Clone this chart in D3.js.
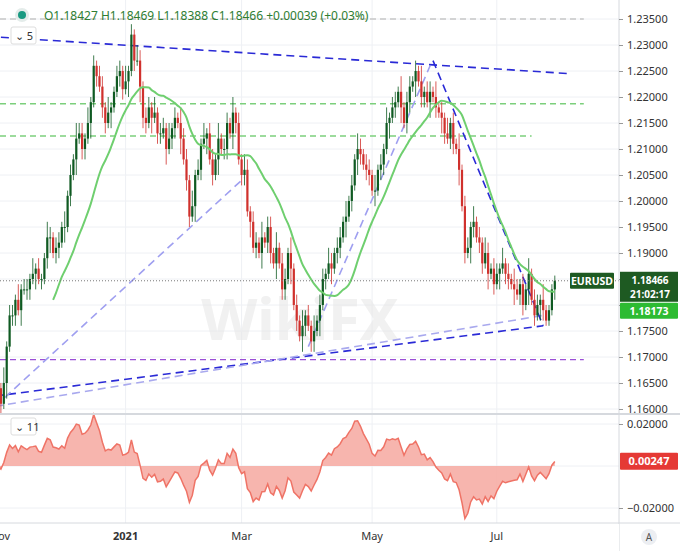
<!DOCTYPE html>
<html><head><meta charset="utf-8">
<script src="https://cdn.jsdelivr.net/npm/d3@7"></script>
<style>body{margin:0;background:#fff}svg{display:block;font-family:'Noto Sans',Arial,sans-serif}</style>
</head><body><div id="chart"></div>
<script>
// daily EURUSD closes, Nov 2 2020 .. Jul 2021
const closes = [
  1.1640,1.1610,1.1650,1.1720,1.1780,1.1780,1.1810,1.1790,1.1830,1.1830,
  1.1830,1.1850,1.1860,1.1870,1.1850,1.1850,1.1890,1.1930,1.1930,1.1900,
  1.1910,1.1920,1.1950,1.1950,1.2010,1.2050,1.2080,1.2120,1.2130,1.2100,
  1.2120,1.2150,1.2190,1.2260,1.2240,1.2220,1.2180,1.2150,1.2170,1.2180,
  1.2210,1.2240,1.2250,1.2215,1.2230,1.2250,1.2320,1.2270,1.2270,1.2220,
  1.2160,1.2150,1.2180,1.2160,1.2170,1.2130,1.2130,1.2140,1.2100,1.2120,
  1.2140,1.2160,1.2150,1.2120,1.2080,1.2040,1.1970,1.1990,1.2050,1.2060,
  1.2110,1.2120,1.2130,1.2080,1.2050,1.2080,1.2120,1.2100,1.2100,1.2150,
  1.2130,1.2170,1.2150,1.2080,1.2050,1.2060,1.1980,1.1960,1.1910,1.1920,
  1.1900,1.1930,1.1920,1.1950,1.1900,1.1880,1.1910,1.1880,1.1830,1.1850,
  1.1900,1.1870,1.1800,1.1770,1.1740,1.1760,1.1780,1.1760,1.1730,1.1750,
  1.1770,1.1800,1.1850,1.1860,1.1880,1.1870,1.1900,1.1910,1.1930,1.1960,
  1.1970,1.2000,1.2030,1.2080,1.2100,1.2090,1.2070,1.2060,1.2050,1.2020,
  1.2020,1.2060,1.2070,1.2100,1.2150,1.2160,1.2180,1.2190,1.2210,1.2180,
  1.2150,1.2190,1.2220,1.2230,1.2250,1.2230,1.2200,1.2210,1.2190,1.2210,
  1.2200,1.2180,1.2170,1.2160,1.2130,1.2120,1.2150,1.2110,1.2100,1.2060,
  1.1990,1.1900,1.1910,1.1950,1.1960,1.1930,1.1920,1.1880,1.1900,1.1860,
  1.1870,1.1840,1.1860,1.1870,1.1880,1.1860,1.1850,1.1840,1.1830,1.1820,
  1.1840,1.1800,1.1830,1.1860,1.1810,1.1780,1.1800,1.1810,1.1790,1.1770,
  1.1790,1.1830,1.18466
];
const firstOpen = 1.1650;
// wick extensions in 0.001 units (upper, lower)
const wickUp = '2131221312213121132122131213221312122131122131213212213122131213221312131221312213121321221312213122131213121312213212213121321221312131221312212131221312131213122131213212213121321213122131111';
const wickDn = '1213122131221312123122131213122131212213112213121322131221312213122131213121312213212213121312213122131213212213121312213121321221312213121312213122131213212213121321221312131221312213121321112';
const monthTicks = [{i: 0, label: 'Nov', bold: false}, {i: 44, label: '2021', bold: true}, {i: 84, label: 'Mar', bold: false}, {i: 129, label: 'May', bold: false}, {i: 172, label: 'Jul', bold: false}];
const priceTicks = d3.range(1.160, 1.2351, 0.005);
const hiddenTicks = ['1.18000', '1.18500'];
const oscTicks = [0.02, -0.02];
// drawn trendlines: [i1, p1, i2, p2, colour]
const trendLines = [
  [1, 1.2315, 197, 1.2245, '#2a2ad6'],
  [-1, 1.1625, 188, 1.1760, '#2a2ad6'],
  [-1, 1.1605, 85, 1.2045, '#9f9ff0'],
  [-1, 1.1605, 188, 1.1780, '#a9a9ee'],
  [107, 1.1720, 149, 1.2260, '#9f9ff0'],
  [150, 1.2270, 188, 1.1760, '#2a2ad6']
];
// horizontal levels: [price, i end, colour]
const levels = [[1.2350, 202, '#c8c8c8'], [1.2187, 202, '#7ccf7c'], [1.2125, 184, '#7ccf7c'], [1.1695, 202, '#9b4fd6']];
const lastClose = 1.18466, smaLast = 1.18173, oscLast = 0.00247;

const W = 680, H = 551, plotR = 619;
const svg = d3.select('#chart').append('svg').attr('width', W).attr('height', H);
const x = d3.scaleLinear().domain([0, 192]).range([-2, -2 + 192 * 2.9]);
const xi = i => x(i);
const y = d3.scaleLinear().domain([1.160, 1.235]).range([409, 19]);
const yo = d3.scaleLinear().domain([-0.02, 0.02]).range([508, 424]);

// grid
svg.append('g').selectAll('line').data(priceTicks).join('line')
  .attr('x1', 0).attr('x2', plotR).attr('y1', d => y(d)).attr('y2', d => y(d))
  .attr('stroke', '#eef0f4');
svg.append('g').selectAll('line').data(monthTicks).join('line')
  .attr('x1', d => xi(d.i)).attr('x2', d => xi(d.i)).attr('y1', 0).attr('y2', 523)
  .attr('stroke', '#eef0f4');
svg.append('g').selectAll('line').data(oscTicks.concat([0])).join('line')
  .attr('x1', 0).attr('x2', plotR).attr('y1', d => yo(d)).attr('y2', d => yo(d))
  .attr('stroke', '#eef0f4');

// watermark
svg.append('text').attr('x', 300).attr('y', 340).attr('text-anchor', 'middle')
  .attr('font-size', 58).attr('font-weight', 'bold').attr('fill', '#e8e8e8').attr('opacity', 0.6)
  .text('WikiFX');

// levels and trendlines
svg.append('g').selectAll('line').data(levels).join('line')
  .attr('x1', 0).attr('x2', d => xi(d[1])).attr('y1', d => y(d[0])).attr('y2', d => y(d[0]))
  .attr('stroke', d => d[2]).attr('stroke-width', 1.3).attr('stroke-dasharray', '6,4');
svg.append('g').selectAll('line').data(trendLines).join('line')
  .attr('x1', d => xi(d[0])).attr('y1', d => y(d[1])).attr('x2', d => xi(d[2])).attr('y2', d => y(d[3]))
  .attr('stroke', d => d[4]).attr('stroke-width', 1.6).attr('stroke-dasharray', '8,5');

// candles
const candles = closes.map((c, i) => {
  const o = i === 0 ? firstOpen : closes[i - 1];
  return {i, o, c, h: Math.max(o, c) + (+wickUp[i] || 1) * 0.001, l: Math.min(o, c) - (+wickDn[i] || 1) * 0.001};
});
const cg = svg.append('g');
cg.selectAll('line').data(candles).join('line')
  .attr('x1', d => xi(d.i)).attr('x2', d => xi(d.i)).attr('y1', d => y(d.h)).attr('y2', d => y(d.l))
  .attr('stroke', d => d.c >= d.o ? '#0f5a22' : '#d0312d').attr('stroke-width', 0.8);
cg.selectAll('rect').data(candles).join('rect')
  .attr('x', d => xi(d.i) - 1.1).attr('width', 2.2)
  .attr('y', d => y(Math.max(d.o, d.c))).attr('height', d => Math.max(1, Math.abs(y(d.o) - y(d.c))))
  .attr('fill', d => d.c >= d.o ? '#0f5a22' : '#d0312d');

// 20-day SMA
const sma = closes.map((c, i) => i < 19 ? null : d3.mean(closes.slice(i - 19, i + 1)));
svg.append('path').datum(sma.map((v, i) => [i, v]).filter(d => d[1] !== null))
  .attr('fill', 'none').attr('stroke', '#6fcf6f').attr('stroke-width', 2)
  .attr('d', d3.line().x(d => xi(d[0])).y(d => y(d[1])).curve(d3.curveMonotoneX));

// last price dotted line
svg.append('line').attr('x1', 0).attr('x2', plotR).attr('y1', y(lastClose)).attr('y2', y(lastClose))
  .attr('stroke', '#777').attr('stroke-dasharray', '1,2');

// oscillator: close minus SMA
const osc = closes.map((c, i) => [i, c - (i < 19 ? d3.mean(closes.slice(0, i + 1)) : sma[i])]);
svg.append('path').datum(osc)
  .attr('fill', '#f6a8a0').attr('opacity', 0.85)
  .attr('d', d3.area().x(d => xi(d[0])).y0(yo(0)).y1(d => yo(d[1])));
svg.append('path').datum(osc)
  .attr('fill', 'none').attr('stroke', '#ef7366').attr('stroke-width', 1.5)
  .attr('d', d3.line().x(d => xi(d[0])).y(d => yo(d[1])));

// panel borders
svg.append('rect').attr('x', plotR).attr('y', 0).attr('width', W - plotR).attr('height', H).attr('fill', '#fff');
svg.append('line').attr('x1', plotR).attr('x2', plotR).attr('y1', 0).attr('y2', 551).attr('stroke', '#d6d9de');
svg.append('line').attr('x1', 0).attr('x2', W).attr('y1', 414).attr('y2', 414).attr('stroke', '#d6d9de').attr('stroke-width', 2);
svg.append('line').attr('x1', 0).attr('x2', W).attr('y1', 523).attr('y2', 523).attr('stroke', '#d6d9de');
svg.append('rect').attr('x', 0).attr('y', 524).attr('width', plotR).attr('height', 27).attr('fill', '#fff');

// axes
const yAxis = d3.axisRight(y).tickValues(priceTicks).tickSize(4)
  .tickFormat(d => hiddenTicks.includes(d3.format('.5f')(d)) ? '' : d3.format('.5f')(d));
const ga = svg.append('g').attr('transform', `translate(${plotR},0)`).call(yAxis);
const yoAxis = d3.axisRight(yo).tickValues(oscTicks).tickFormat(d3.format('.5f')).tickSize(4);
const gb = svg.append('g').attr('transform', `translate(${plotR},0)`).call(yoAxis);
for (const g of [ga, gb]) {
  g.select('.domain').remove();
  g.selectAll('line').attr('stroke', '#999');
  g.selectAll('text').attr('font-size', 11).attr('fill', '#333').attr('x', 8).attr('font-family', 'Noto Sans, Arial');
}
svg.append('g').selectAll('text').data(monthTicks).join('text')
  .attr('x', d => xi(d.i)).attr('y', 540).attr('text-anchor', 'middle')
  .attr('font-size', 11).attr('font-weight', d => d.bold ? 'bold' : 'normal').attr('fill', '#333')
  .text(d => d.i === 0 ? 'ov' : d.label)
  .attr('dx', d => d.i === 0 ? 6 : 0);
svg.append('circle').attr('cx', 649).attr('cy', 537).attr('r', 8).attr('fill', '#eceef2');
svg.append('text').attr('x', 649).attr('y', 541).attr('text-anchor', 'middle').attr('font-size', 10).attr('fill', '#555').text('A');

// price labels
const lbl = (x0, y0, w, h, fill, txt, size) => {
  svg.append('rect').attr('x', x0).attr('y', y0).attr('width', w).attr('height', h).attr('fill', fill).attr('rx', 1);
  svg.append('text').attr('x', x0 + w / 2).attr('y', y0 + h / 2 + 4).attr('text-anchor', 'middle')
    .attr('font-size', size).attr('font-weight', 'bold').attr('fill', '#fff').text(txt);
};
lbl(570, y(lastClose) - 8, 44, 16, '#1e5a22', 'EURUSD', 10.5);
svg.append('rect').attr('x', plotR + 1).attr('y', y(lastClose) - 9).attr('width', 58).attr('height', 30).attr('fill', '#1e5a22');
svg.append('text').attr('x', 650).attr('y', y(lastClose) + 3).attr('text-anchor', 'middle').attr('font-size', 10).attr('font-weight', 'bold').attr('fill', '#fff').text(d3.format('.5f')(lastClose));
svg.append('text').attr('x', 650).attr('y', y(lastClose) + 17).attr('text-anchor', 'middle').attr('font-size', 10).attr('font-weight', 'bold').attr('fill', '#fff').text('21:02:17');
lbl(plotR + 1, y(lastClose) + 22, 58, 16, '#2dbb32', d3.format('.5f')(smaLast), 10.5);
lbl(plotR + 1, yo(oscLast) - 8, 58, 17, '#e53935', d3.format('.5f')(oscLast), 11);

// legend
svg.append('circle').attr('cx', 22).attr('cy', 15).attr('r', 7).attr('fill', '#e4ecea');
svg.append('circle').attr('cx', 22).attr('cy', 15).attr('r', 4).attr('fill', '#1a9a82');
svg.append('text').attr('x', 44).attr('y', 20).attr('font-size', 12).attr('fill', '#2e7d32')
  .text('O1.18427  H1.18469  L1.18388  C1.18466  +0.00039 (+0.03%)');
const box = (x0, y0, t) => {
  svg.append('rect').attr('x', x0).attr('y', y0).attr('width', 25).attr('height', 17).attr('fill', '#fff').attr('stroke', '#ddd').attr('rx', 2);
  svg.append('text').attr('x', x0 + 4).attr('y', y0 + 13).attr('font-size', 11).attr('fill', '#333').text('⌄ ' + t);
};
box(11, 27, '5');
box(11, 418, '11');
</script></body></html>
